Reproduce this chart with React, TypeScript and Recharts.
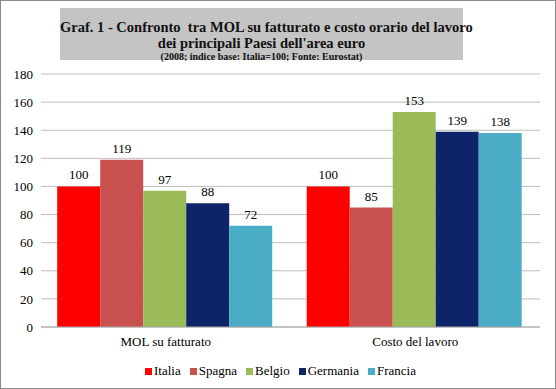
import React from "react";
import { BarChart, Bar, XAxis, YAxis, CartesianGrid, LabelList } from "recharts";

const categories = ["MOL su fatturato", "Costo del lavoro"];
const italia = [100, 100];
const spagna = [119, 85];
const belgio = [97, 153];
const germania = [88, 139];
const francia = [72, 138];
const yTicks = [0, 20, 40, 60, 80, 100, 120, 140, 160, 180];

const series = [
  { key: "Italia", values: italia, color: "#FF0000" },
  { key: "Spagna", values: spagna, color: "#C8504F" },
  { key: "Belgio", values: belgio, color: "#9BBB59" },
  { key: "Germania", values: germania, color: "#0E2468" },
  { key: "Francia", values: francia, color: "#4BACC6" },
];

const data = categories.map((c, i) => {
  const row: Record<string, string | number> = { name: c };
  series.forEach((s) => (row[s.key] = s.values[i]));
  return row;
});

const FONT = "Times New Roman, Liberation Serif, Tinos, DejaVu Serif, serif";

export default function App() {
  return (
    <div style={{ position: "absolute", left: 0, top: 0, width: 556, height: 389, background: "#fff", fontFamily: FONT }}>
      <div style={{ position: "absolute", left: 0, top: 0, width: 554, height: 387, border: "1px solid #8a8a8a" }} />
      <div
        style={{
          position: "absolute",
          left: 60,
          top: 8,
          width: 403,
          height: 52,
          background: "#C4C4C4",
          textAlign: "center",
          fontWeight: "bold",
          color: "#111",
        }}
      >
        <div style={{ fontSize: 14.5, lineHeight: "16px", marginTop: 11, whiteSpace: "pre" }}>
          {"Graf. 1 - Confronto  tra MOL su fatturato e costo orario del lavoro"}
        </div>
        <div style={{ fontSize: 14.5, lineHeight: "16px" }}>dei principali Paesi dell'area euro</div>
        <div style={{ fontSize: 10, lineHeight: "11px" }}>(2008; indice base: Italia=100; Fonte: Eurostat)</div>
      </div>
      <BarChart
        width={556}
        height={389}
        data={data}
        margin={{ top: 74, right: 16, left: 0, bottom: 32 }}
        barCategoryGap="6.5%"
        barGap={0}
        style={{ position: "absolute", left: 0, top: 0 }}
      >
        <CartesianGrid vertical={false} stroke="#BDBDBD" />
        <XAxis
          dataKey="name"
          height={30}
          tickLine={false}
          axisLine={{ stroke: "#A8A8A8" }}
          tick={{ fontFamily: FONT, fontSize: 13, fill: "#000" }}
          tickMargin={4}
        />
        <YAxis
          width={41}
          domain={[0, 180]}
          ticks={yTicks}
          tickLine={false}
          axisLine={false}
          tick={{ fontFamily: FONT, fontSize: 13, fill: "#000" }}
        />
        {series.map((s) => (
          <Bar key={s.key} dataKey={s.key} fill={s.color} isAnimationActive={false}>
            <LabelList dataKey={s.key} position="top" offset={7} style={{ fontFamily: FONT, fontSize: 13, fill: "#000" }} />
          </Bar>
        ))}
      </BarChart>
      <div style={{ position: "absolute", left: 145, top: 363, display: "flex", alignItems: "center", fontSize: 13, color: "#000", whiteSpace: "nowrap" }}>
        {series.map((s) => (
          <div key={s.key} style={{ display: "flex", alignItems: "center", marginRight: 9 }}>
            <span style={{ display: "inline-block", width: 7, height: 7, background: s.color, marginRight: 2 }} />
            <span>{s.key}</span>
          </div>
        ))}
      </div>
    </div>
  );
}
